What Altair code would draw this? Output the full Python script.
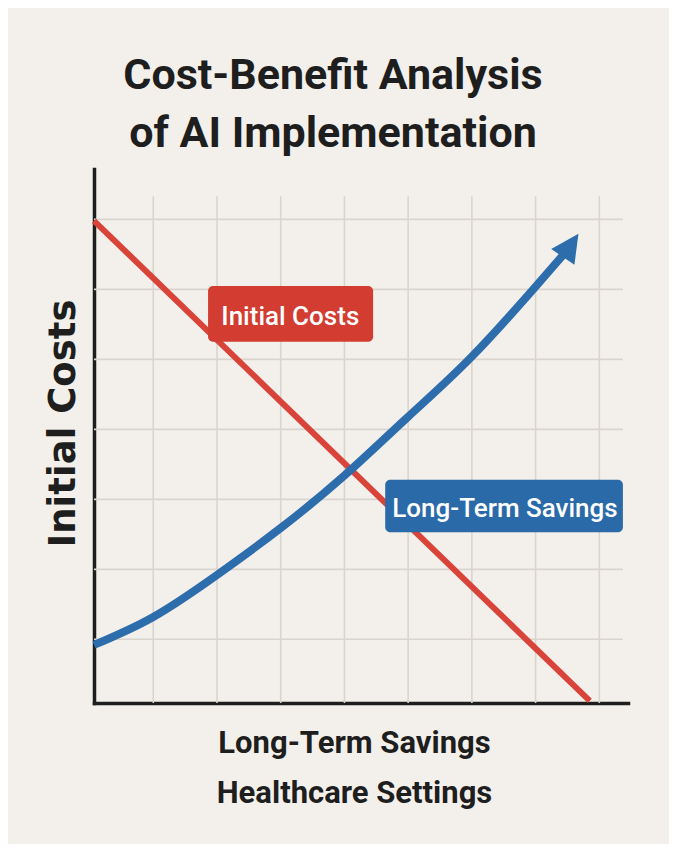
import altair as alt
import pandas as pd

# ---------------- data ----------------
title_lines = ["Cost-Benefit Analysis", "of AI Implementation"]
y_title = "Initial Costs"
x_title_lines = ["Long-Term Savings", "Healthcare Settings"]

# axis ranges (arbitrary units, one grid cell = 1)
x_min, x_max = 0.07, 8.45
y_min, y_max = 0.09, 7.72
grid_x = [1, 2, 3, 4, 5, 6, 7, 8]
grid_y = [1, 2, 3, 4, 5, 6, 7]
grid_x_end = 8.37
grid_y_end = 7.33

# Initial Costs (straight decline)
cost_x = [0.07, 7.85]
cost_y = [6.98, 0.12]

# Long-Term Savings (accelerating growth)
savings_x = [0.07, 1.0, 2.0, 3.0, 4.0, 5.0, 6.0, 7.0, 7.46]
savings_y = [0.92, 1.32, 1.92, 2.59, 3.34, 4.18, 5.04, 6.04, 6.52]

# arrow head at end of the savings curve
arrow_x = [7.55]
arrow_y = [6.63]

# label boxes
label_names = ["Initial Costs", "Long-Term Savings"]
label_x = [3.15, 6.52]
label_y = [5.49, 2.75]
box_x1 = [1.86, 4.64]
box_x2 = [4.45, 8.37]
box_y1 = [5.25, 2.53]
box_y2 = [6.05, 3.28]

# ---------------- style ----------------
RED_LINE = "#d8443a"
BLUE_LINE = "#2e6dac"
RED_BOX = "#d23c31"
BLUE_BOX = "#2b6aa8"
BG = "#f3f0eb"
GRID = "#d9d5ce"
INK = "#1e1e1e"
FONT = "Roboto"

xs = alt.Scale(domain=[x_min, x_max], nice=False, zero=False)
ys = alt.Scale(domain=[y_min, y_max], nice=False, zero=False)

ax_x = alt.Axis(
    title=x_title_lines, domain=True, domainColor=INK, domainWidth=3.5, domainCap="square",
    ticks=False, labels=False, grid=False,
    titleFont=FONT, titleFontSize=31, titleFontWeight="bold", titleColor=INK,
    titleLineHeight=50, titleBaseline="alphabetic", titleAlign="center",
    titleX=260, titleY=49,
)
ax_y = alt.Axis(
    title=y_title, domain=True, domainColor=INK, domainWidth=3.5, domainCap="square",
    ticks=False, labels=False, grid=False,
    titleFont="DejaVu Sans", titleFontSize=37, titleFontWeight="bold", titleColor=INK,
    titlePadding=12, titleY=254,
)

vgrid_df = pd.DataFrame({"x": grid_x, "y": [y_min] * len(grid_x), "y2": [grid_y_end] * len(grid_x)})
hgrid_df = pd.DataFrame({"y": grid_y, "x": [x_min] * len(grid_y), "x2": [grid_x_end] * len(grid_y)})
cost_df = pd.DataFrame({"x": cost_x, "y": cost_y})
sav_df = pd.DataFrame({"x": savings_x, "y": savings_y})
arrow_df = pd.DataFrame({"x": arrow_x, "y": arrow_y})
lab_df = pd.DataFrame({
    "name": label_names, "x": label_x, "y": label_y,
    "bx1": box_x1, "bx2": box_x2, "by1": box_y1, "by2": box_y2,
})

X = lambda f: alt.X(f, type="quantitative", scale=xs, axis=ax_x)
Y = lambda f: alt.Y(f, type="quantitative", scale=ys, axis=ax_y)

vgrid = alt.Chart(vgrid_df).mark_rule(color=GRID, strokeWidth=1.6).encode(
    x=X("x"), y=Y("y"), y2="y2")
hgrid = alt.Chart(hgrid_df).mark_rule(color=GRID, strokeWidth=1.6).encode(
    y=Y("y"), x=X("x"), x2="x2")

cost_line = alt.Chart(cost_df).mark_line(color=RED_LINE, strokeWidth=6).encode(
    x=X("x"), y=Y("y"))
sav_line = alt.Chart(sav_df).mark_line(color=BLUE_LINE, strokeWidth=8, interpolate="natural").encode(
    x=X("x"), y=Y("y"))
arrow = alt.Chart(arrow_df).mark_point(
    shape="M0,-1L1,1L-1,1Z", filled=True, size=784, angle=34, color=BLUE_LINE, opacity=1
).encode(x=X("x"), y=Y("y"))

boxes = alt.Chart(lab_df).mark_rect(cornerRadius=5).encode(
    x=X("bx1"), x2="bx2", y=Y("by1"), y2="by2",
    color=alt.Color("name:N", scale=alt.Scale(domain=label_names, range=[RED_BOX, BLUE_BOX]), legend=None),
)
texts = alt.Chart(lab_df).mark_text(
    font=FONT, fontSize=26, fontWeight=500, color="white", align="center", baseline="alphabetic"
).encode(x=X("x"), y=Y("y"), text="name:N")

chart = alt.layer(vgrid, hgrid, cost_line, sav_line, arrow, boxes, texts).properties(
    width=534, height=534,
    autosize=alt.AutoSizeParams(type="none"),
    padding={"left": 86, "top": 161, "right": 41, "bottom": 141},
    title=alt.TitleParams(
        text=title_lines, font=FONT, fontSize=43, fontWeight="bold", color=INK,
        anchor="middle", lineHeight=58, baseline="bottom", offset=11, dx=-28, dy=41,
    ),
).configure(background=BG).configure_view(stroke=None)

chart.save("out.html", embed_options={"renderer": "svg", "actions": False})
